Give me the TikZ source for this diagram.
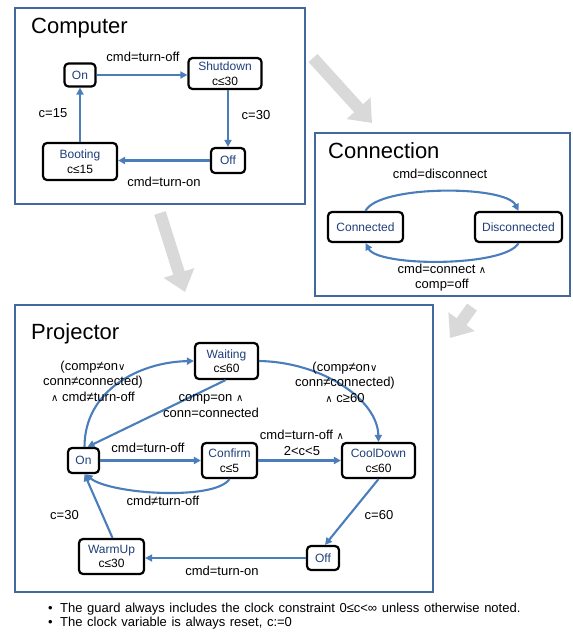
\documentclass[tikz,border=0pt]{standalone}
\usepackage{fontspec}
\setmainfont{Liberation Sans}
\newfontfamily\symfont{DejaVu Sans}
\usetikzlibrary{arrows.meta,calc}
\definecolor{framecol}{HTML}{44689E}
\definecolor{edgecol}{HTML}{4A7EBB}
\definecolor{namecol}{HTML}{1F3F7A}
\definecolor{bigarrow}{HTML}{D9D9D9}
\newcommand\myand{{\symfont\fontsize{10}{11}\selectfont ∧}}
\newcommand\myor{{\symfont\fontsize{10}{11}\selectfont ∨}}
\newcommand\nm[1]{\textcolor{namecol}{#1}}
\newcommand\widesp{\spaceskip=4.6pt plus 1pt\relax}
\begin{document}
\begin{tikzpicture}[x=1pt,y=-1pt,
  state/.style={draw=black, line width=2.2pt, rounded corners=4pt, fill=white,
    inner sep=0pt, align=center, font=\fontsize{12}{14.5}\selectfont},
  conn/.style={draw=edgecol, line width=2.1pt, -{Triangle[length=7pt,width=7pt]}},
  lbl/.style={font=\fontsize{13}{15.5}\selectfont, align=center, inner sep=0pt},
  frame/.style={draw=framecol, line width=1.9pt},
  title/.style={font=\fontsize{22}{24}\selectfont, inner sep=0pt, anchor=base west},
  big/.style={draw=bigarrow, line width=12pt, -{Triangle[length=20pt,width=31pt]}},
  foot/.style={font=\fontsize{13}{15}\selectfont, inner sep=0pt, anchor=base west}
]
\useasboundingbox (0,0) rectangle (573,633);

% big grey arrows
\coordinate (a1s) at (313,58);  \coordinate (a1e) at (372,123);
\coordinate (a2s) at (160,213); \coordinate (a2e) at (185,292);
\coordinate (a3s) at (472,307); \coordinate (a3e) at (450,338);
\draw[big] (a1s) -- (a1e);
\draw[big] (a2s) -- (a2e);
\draw[big] (a3s) -- (a3e);

% frames
\draw[frame] (15,8) rectangle (305,204);
\draw[frame] (315,133) rectangle (570,296);
\draw[frame] (15,305) rectangle (433,592);

% ---------------- Computer ----------------
\node[title] (tComp) at (31,33) {Computer};
\node[state, minimum width=31, minimum height=23] (cOn) at (80,75) {\nm{On}};
\node[state, minimum width=73, minimum height=31] (cShut) at (225,73.5) {\nm{Shutdown}\\c≤30};
\node[state, minimum width=34, minimum height=25] (cOff) at (228,160.5) {\nm{Off}};
\node[state, minimum width=74, minimum height=37] (cBoot) at (80,161.5) {\nm{Booting}\\c≤15};

\draw[conn] (cOn.east) -- (cOn.east -| cShut.west);
\draw[conn] (cShut.south -| cOff.north) -- (cOff.north);
\draw[conn] (cOff.west) -- (cOff.west -| cBoot.east);
\draw[conn] (cBoot.north) -- (cOn.south);

\node[lbl] (lc1) at (143,57) {cmd=turn-off};
\node[lbl] (lc2) at (256,115) {c=30};
\node[lbl] (lc3) at (164,182) {cmd=turn-on};
\node[lbl] (lc4) at (53,113) {c=15};

% ---------------- Connection ----------------
\node[title] (tConn) at (328,158) {Connection};
\node[state, minimum width=75, minimum height=30] (nConn) at (365.5,227) {\nm{Connected}};
\node[state, minimum width=87, minimum height=30] (nDisc) at (518.5,227) {\nm{Disconnected}};

\draw[conn] (nConn.north) .. controls +(13,-26) and +(-13,-26) .. (nDisc.north);
\draw[conn] (nDisc.south) .. controls +(-13,24) and +(13,24) .. (nConn.south);

\node[lbl] (ln1) at (440,174) {cmd=disconnect};
\node[lbl] (ln2) at (442,277.5) {cmd=connect \myand\\comp=off};

% ---------------- Projector ----------------
\node[title] (tProj) at (31,339) {Projector};
\node[state, minimum width=63, minimum height=36] (pWait) at (226.5,361) {\nm{Waiting}\\c≤60};
\node[state, minimum width=31, minimum height=25] (pOn) at (83.5,460.5) {\nm{On}};
\node[state, minimum width=55, minimum height=35] (pConf) at (229.5,460.5) {\nm{Confirm}\\c≤5};
\node[state, minimum width=73, minimum height=35] (pCool) at (378.5,460.5) {\nm{CoolDown}\\c≤60};
\node[state, minimum width=65, minimum height=35] (pWarm) at (111.5,556.5) {\nm{WarmUp}\\c≤30};
\node[state, minimum width=32, minimum height=24] (pOff) at (323,558) {\nm{Off}};

\draw[conn] ($(pOn.north)+(1,0)$) .. controls +(0,-57) and +(-54,1) .. (pWait.west);
\draw[conn] ($(pWait.south)+(-1,0)$) -- ($(pOn.north)+(4,0)$);
\draw[conn] (pWait.east) .. controls +(62,1) and +(-1,-43) .. (pCool.north);
\draw[conn] (pOn.east) -- (pConf.west);
\draw[conn] (pConf.east) -- (pCool.west);
\draw[conn] (pConf.south) .. controls +(-15,22) and +(24,20) .. ($(pOn.south)+(2,0)$);
\draw[conn] (pCool.south) -- ($(pOff.north)+(2,0)$);
\draw[conn] (pOff.west) -- (pOff.west -| pWarm.east);
\draw[conn] ($(pWarm.north)+(1,0)$) -- ($(pOn.south)+(1,0)$);

\node[lbl] (lp1) at (93,381) {(comp≠on\myor\\conn≠connected)\\\myand{} cmd≠turn-off};
\node[lbl] (lp2) at (345,382) {(comp≠on\myor\\conn≠connected)\\\myand{} c≥60};
\node[lbl] (lp3) at (211,406) {comp=on \myand\\conn=connected};
\node[lbl] (lp4) at (148,448) {cmd=turn-off};
\node[lbl] (lp5) at (302,443) {cmd=turn-off \myand\\2<c<5};
\node[lbl] (lp6) at (163,501) {cmd≠turn-off};
\node[lbl] (lp7) at (64.5,515) {c=30};
\node[lbl] (lp8) at (379,515) {c=60};
\node[lbl] (lp9) at (222,571) {cmd=turn-on};

% footnotes
\node[foot] (f1) at (48,612) {\widesp •\hspace{7.5pt}The guard always includes the clock constraint 0≤c<∞ unless otherwise noted.};
\node[foot] (f2) at (48,626) {\widesp •\hspace{7.5pt}The clock variable is always reset, c:=0};
\end{tikzpicture}
\end{document}
